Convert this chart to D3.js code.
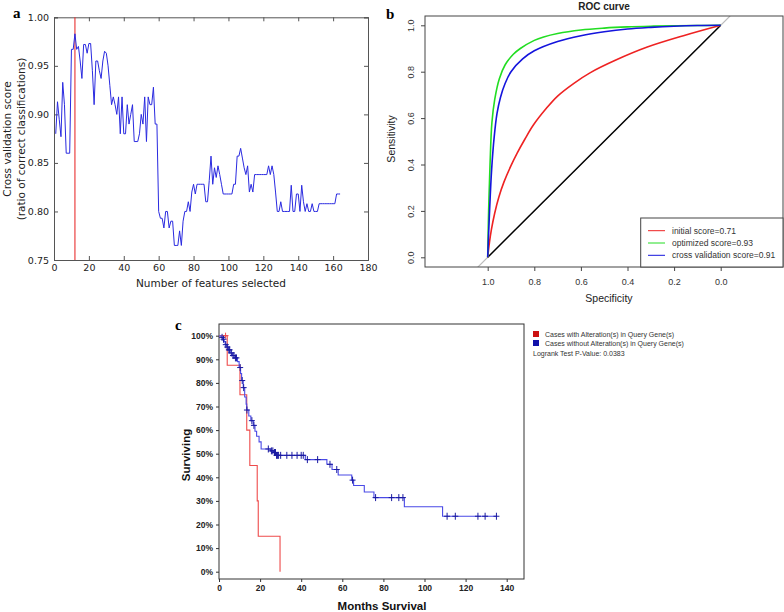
<!DOCTYPE html>
<html><head><meta charset="utf-8">
<script src="https://cdn.jsdelivr.net/npm/d3@7"></script>
<style>body{margin:0;background:#fff}svg{display:block}</style>
</head><body>
<svg id="c" width="784" height="612"></svg>
<script>
// ---------- Panel a data ----------
const cvScores = [0.880,0.913,0.895,0.877,0.933,0.910,0.860,0.860,0.860,0.967,0.967,0.983,0.967,0.970,0.955,0.937,0.972,0.972,0.963,0.973,
0.973,0.945,0.910,0.955,0.955,0.945,0.937,0.955,0.965,0.963,0.950,0.930,0.910,0.918,0.910,0.900,0.918,0.880,0.918,0.880,
0.880,0.910,0.890,0.900,0.910,0.872,0.872,0.872,0.880,0.900,0.890,0.918,0.872,0.918,0.910,0.910,0.928,0.890,0.890,0.800,
0.793,0.793,0.783,0.800,0.800,0.783,0.790,0.790,0.765,0.765,0.765,0.780,0.765,0.790,0.800,0.800,0.810,0.800,0.820,0.828,
0.818,0.828,0.828,0.828,0.828,0.828,0.810,0.810,0.832,0.857,0.828,0.845,0.835,0.847,0.838,0.828,0.818,0.818,0.818,0.818,
0.818,0.818,0.828,0.828,0.857,0.857,0.865,0.855,0.845,0.838,0.847,0.820,0.828,0.820,0.838,0.838,0.838,0.838,0.838,0.838,
0.838,0.838,0.847,0.838,0.847,0.838,0.820,0.800,0.800,0.810,0.800,0.800,0.800,0.800,0.800,0.827,0.800,0.800,0.818,0.818,
0.800,0.827,0.810,0.800,0.808,0.800,0.800,0.808,0.800,0.800,0.800,0.808,0.808,0.808,0.808,0.808,0.808,0.808,0.808,0.808,
0.808,0.818,0.818,0.818];
const optimalFeatures = 12;
const aXTicks = [0,20,40,60,80,100,120,140,160,180];
const aYTicks = [0.75,0.80,0.85,0.90,0.95,1.00];

// ---------- Panel b data (specificity, sensitivity) ----------
const rocInitial = [[1.0,0],[0.993,0.06],[0.984,0.12],[0.97,0.19],[0.952,0.26],[0.93,0.325],[0.90,0.395],[0.873,0.45],[0.84,0.51],[0.804,0.57],[0.75,0.64],[0.70,0.695],[0.63,0.75],[0.561,0.795],[0.45,0.85],[0.318,0.905],[0.16,0.955],[0.0,1.0]];
const rocOptimized = [[1.0,0],[0.996,0.2],[0.99,0.4],[0.982,0.58],[0.97,0.68],[0.95,0.77],[0.925,0.83],[0.89,0.875],[0.86,0.9],[0.80,0.935],[0.76,0.95],[0.70,0.965],[0.60,0.98],[0.50,0.988],[0.40,0.993],[0.30,0.996],[0.20,0.998],[0.10,0.999],[0.0,1.0]];
const rocCV = [[1.0,0],[0.992,0.2],[0.983,0.38],[0.972,0.52],[0.96,0.62],[0.945,0.69],[0.925,0.75],[0.90,0.8],[0.85,0.855],[0.80,0.89],[0.70,0.93],[0.60,0.955],[0.50,0.972],[0.40,0.984],[0.30,0.991],[0.20,0.996],[0.10,0.999],[0.0,1.0]];
const rocLabels = ["initial score=0.71","optimized score=0.93","cross validation score=0.91"];
const bTicks = [0,0.2,0.4,0.6,0.8,1.0];

// ---------- Panel c data (months, % surviving) ----------
const kmAltered = [[0,100],[4.0,87.5],[10.2,75],[13.5,60],[15,45],[18.6,30],[19.1,15],[29.7,0]];
const kmAlteredEnd = 29.7;
const kmAlteredCensor = [3.2];
const kmUnaltered = [[0,100],[1,99.3],[1.8,98.5],[2.5,97.5],[3,96.2],[3.8,95.2],[4.5,94],[5.4,92.7],[6.5,91.6],[7.8,90.6],[9,89],[9.8,86.5],[10.5,84],[11,81],[11.8,78],[12.5,74],[13.2,71],[13.5,68.5],[14.5,66],[15.5,64],[16.7,62],[17.5,59.5],[18.3,57.4],[19.5,55],[20.5,52],[25,51.2],[26.5,50.5],[28,49.3],[42,47.5],[52.5,45.5],[55,43.3],[58,41],[64.6,38.8],[65.5,36.5],[70.7,33.8],[75.4,31.4],[90.2,27.5],[108.8,23.5]];
const kmUnalteredEnd = 135.3;
const kmUnalteredCensor = [1.5,2.2,3.3,4,4.8,5.2,6,6.8,7.3,8,8.5,10.3,11.3,12,13.6,16,17,24,25.5,26.2,27,27.5,28,28.5,29,30,33,35.5,38,40,41,43,48,54,57.3,65,76.2,84,87.5,89.5,111,115,126,129.5,135];
const cXTicks = [0,20,40,60,80,100,120,140];
const cYTicks = [0,10,20,30,40,50,60,70,80,90,100];
const cLegend = ["Cases with Alteration(s) in Query Gene(s)","Cases without Alteration(s) in Query Gene(s)"];
const pValueText = "Logrank Test P-Value: 0.0383";

const svg = d3.select("#c");
const serif = "'Liberation Serif', 'Times New Roman', serif";
const sans = "'Liberation Sans', Arial, sans-serif";
const dejavu = "'DejaVu Sans', sans-serif";

// ================= Panel a =================
{
  const L=54,R=368,T=17.3,B=260;
  const x = d3.scaleLinear().domain([0,180]).range([L,R]);
  const y = d3.scaleLinear().domain([0.75,1.0]).range([B,T]);
  const g = svg.append("g");
  g.append("text").attr("x",13).attr("y",18).attr("font-family",serif).attr("font-weight","bold").attr("font-size",15).text("a");
  const fmt = d3.format(".2f");
  const ax = [
    g.append("g").attr("transform",`translate(0,${B})`).call(d3.axisBottom(x).tickValues(aXTicks).tickSize(-4).tickPadding(4)),
    g.append("g").attr("transform",`translate(0,${T})`).call(d3.axisTop(x).tickValues(aXTicks).tickSize(-4).tickFormat("")),
    g.append("g").attr("transform",`translate(${L},0)`).call(d3.axisLeft(y).tickValues(aYTicks).tickSize(-4).tickPadding(5).tickFormat(fmt)),
    g.append("g").attr("transform",`translate(${R},0)`).call(d3.axisRight(y).tickValues(aYTicks).tickSize(-4).tickFormat(""))
  ];
  ax.forEach(a=>{a.selectAll("path").attr("stroke","#555");a.selectAll("line").attr("stroke","#555");a.selectAll("text").attr("font-family",dejavu).attr("font-size",9.5).attr("fill","#222");});
  g.append("line").attr("x1",x(optimalFeatures)).attr("x2",x(optimalFeatures)).attr("y1",T).attr("y2",B).attr("stroke","#e83030").attr("stroke-width",1.1);
  const line = d3.line().x((d,i)=>x(i+1)).y(d=>y(d));
  g.append("path").datum(cvScores).attr("d",line).attr("fill","none").attr("stroke","#2a2ae0").attr("stroke-width",1);
  g.append("text").attr("x",211).attr("y",287).attr("text-anchor","middle").attr("font-family",dejavu).attr("font-size",10.5).attr("fill","#222").text("Number of features selected");
  g.append("text").attr("transform","translate(11,139) rotate(-90)").attr("text-anchor","middle").attr("font-family",dejavu).attr("font-size",10.5).attr("fill","#222").text("Cross validation score");
  g.append("text").attr("transform","translate(25,139) rotate(-90)").attr("text-anchor","middle").attr("font-family",dejavu).attr("font-size",10.5).attr("fill","#222").text("(ratio of correct classifications)");
}

// ================= Panel b =================
{
  const L=425,R=783,T=16,B=267;
  const x = d3.scaleLinear().domain([1,0]).range([487.7,720.7]);
  const y = d3.scaleLinear().domain([0,1]).range([257.3,25.3]);
  const g = svg.append("g");
  g.append("text").attr("x",386).attr("y",19).attr("font-family",serif).attr("font-weight","bold").attr("font-size",15).text("b");
  g.append("text").attr("x",604).attr("y",10).attr("text-anchor","middle").attr("font-family",sans).attr("font-weight","bold").attr("font-size",10).attr("fill","#222").text("ROC curve");
  svg.append("clipPath").attr("id","bclip").append("rect").attr("x",L).attr("y",T).attr("width",R-L).attr("height",B-T);
  const pl = g.append("g").attr("clip-path","url(#bclip)");
  pl.append("line").attr("x1",x(1.2)).attr("y1",y(-0.2)).attr("x2",x(-0.2)).attr("y2",y(1.2)).attr("stroke","#bbb").attr("stroke-width",1.2);
  pl.append("line").attr("x1",x(1)).attr("y1",y(0)).attr("x2",x(0)).attr("y2",y(1)).attr("stroke","#000").attr("stroke-width",1.4);
  const line = d3.line().x(d=>x(d[0])).y(d=>y(d[1])).curve(d3.curveCatmullRom.alpha(0.5));
  const series=[[rocInitial,"#ee2222"],[rocOptimized,"#22dd22"],[rocCV,"#1414dd"]];
  series.forEach(([d,c])=>pl.append("path").datum(d).attr("d",line).attr("fill","none").attr("stroke",c).attr("stroke-width",1.6));
  g.append("rect").attr("x",L).attr("y",T).attr("width",R-L).attr("height",B-T).attr("fill","none").attr("stroke","#444").attr("stroke-width",1);
  const xa = g.append("g").attr("transform",`translate(0,${B})`).call(d3.axisBottom(x).tickValues(bTicks).tickSize(4).tickPadding(8).tickFormat(d3.format(".1f")));
  xa.select(".domain").remove();
  const ya = g.append("g").attr("transform",`translate(${L},0)`).call(d3.axisLeft(y).tickValues(bTicks).tickSize(4).tickPadding(4).tickFormat(d3.format(".1f")));
  ya.select(".domain").remove();
  ya.selectAll(".tick text").attr("text-anchor","middle").attr("x",0).attr("dy",0).attr("transform","translate(-11,0) rotate(-90)");
  [xa,ya].forEach(a=>{a.selectAll("line").attr("stroke","#444");a.selectAll("text").attr("font-family",sans).attr("font-size",9).attr("fill","#333");});
  g.append("text").attr("x",609).attr("y",302).attr("text-anchor","middle").attr("font-family",sans).attr("font-size",10.5).attr("fill","#222").text("Specificity");
  g.append("text").attr("transform","translate(395,139) rotate(-90)").attr("text-anchor","middle").attr("font-family",sans).attr("font-size",10.5).attr("fill","#222").text("Sensitivity");
  g.append("rect").attr("x",640.7).attr("y",218).attr("width",R-640.7).attr("height",B-218).attr("fill","#fff").attr("stroke","#444");
  rocLabels.forEach((t,i)=>{
    const yy = 230.7 + i*12.3;
    g.append("line").attr("x1",648).attr("x2",665).attr("y1",yy).attr("y2",yy).attr("stroke",series[i][1]).attr("stroke-width",1);
    g.append("text").attr("x",672).attr("y",yy+3).attr("font-family",sans).attr("font-size",8.5).attr("fill","#333").text(t);
  });
}

// ================= Panel c =================
{
  const L=219,R=524,T=324,B=579;
  const x = d3.scaleLinear().domain([0,20]).range([219,260.1]);
  const y = d3.scaleLinear().domain([0,100]).range([571.7,335.7]);
  const g = svg.append("g");
  g.append("text").attr("x",175).attr("y",330).attr("font-family",serif).attr("font-weight","bold").attr("font-size",15).text("c");
  g.append("rect").attr("x",L).attr("y",T).attr("width",R-L).attr("height",B-T).attr("fill","none").attr("stroke","#333").attr("stroke-width",1);
  const xa = g.append("g").attr("transform",`translate(0,${B})`).call(d3.axisBottom(x).tickValues(cXTicks).tickSize(3).tickPadding(3));
  xa.select(".domain").remove();
  const ya = g.append("g").attr("transform",`translate(${L},0)`).call(d3.axisLeft(y).tickValues(cYTicks).tickSize(3).tickPadding(3).tickFormat(d=>d+"%"));
  ya.select(".domain").remove();
  [xa,ya].forEach(a=>{a.selectAll("line").attr("stroke","#333");a.selectAll("text").attr("font-family",sans).attr("font-weight","bold").attr("font-size",8.5).attr("fill","#222");});
  const step = d3.line().x(d=>x(d[0])).y(d=>y(d[1])).curve(d3.curveStepAfter);
  const survAt=(steps,t)=>{let s=steps[0][1];for(const p of steps){if(p[0]<=t)s=p[1];}return s;};
  const redPts = kmAltered.concat([[kmAlteredEnd, kmAltered[kmAltered.length-1][1]]]);
  g.append("path").datum(redPts).attr("d",step).attr("fill","none").attr("stroke","#ee4b4b").attr("stroke-width",1.1);
  kmAlteredCensor.forEach(t=>{const px=x(t),py=y(survAt(kmAltered,t));
    g.append("path").attr("d",`M${px-3},${py}H${px+3}M${px},${py-3}V${py+3}`).attr("stroke","#ee4b4b").attr("stroke-width",1);});
  const bluePts = kmUnaltered.concat([[kmUnalteredEnd, kmUnaltered[kmUnaltered.length-1][1]]]);
  g.append("path").datum(bluePts).attr("d",step).attr("fill","none").attr("stroke","#4a4ae6").attr("stroke-width",1.1);
  kmUnalteredCensor.forEach(t=>{const px=x(t),py=y(survAt(kmUnaltered,t));
    g.append("path").attr("d",`M${px-3},${py}H${px+3}M${px},${py-3.5}V${py+3.5}`).attr("stroke","#1a1aa0").attr("stroke-width",1);});
  g.append("text").attr("x",382).attr("y",610).attr("text-anchor","middle").attr("font-family",sans).attr("font-weight","bold").attr("font-size",11.5).attr("fill","#111").text("Months Survival");
  g.append("text").attr("transform","translate(190,455) rotate(-90)").attr("text-anchor","middle").attr("font-family",sans).attr("font-weight","bold").attr("font-size",11.5).attr("fill","#111").text("Surviving");
  const lc=["#cc1111","#1111aa"];
  cLegend.forEach((t,i)=>{
    const yy=334+i*9;
    g.append("rect").attr("x",533).attr("y",yy-3).attr("width",6).attr("height",6).attr("fill",lc[i]);
    g.append("text").attr("x",545).attr("y",yy+2.5).attr("font-family",sans).attr("font-size",7).attr("fill","#333").text(t);
  });
  g.append("text").attr("x",533).attr("y",356).attr("font-family",sans).attr("font-size",7).attr("fill","#333").text(pValueText);
}
</script>
</body></html>
